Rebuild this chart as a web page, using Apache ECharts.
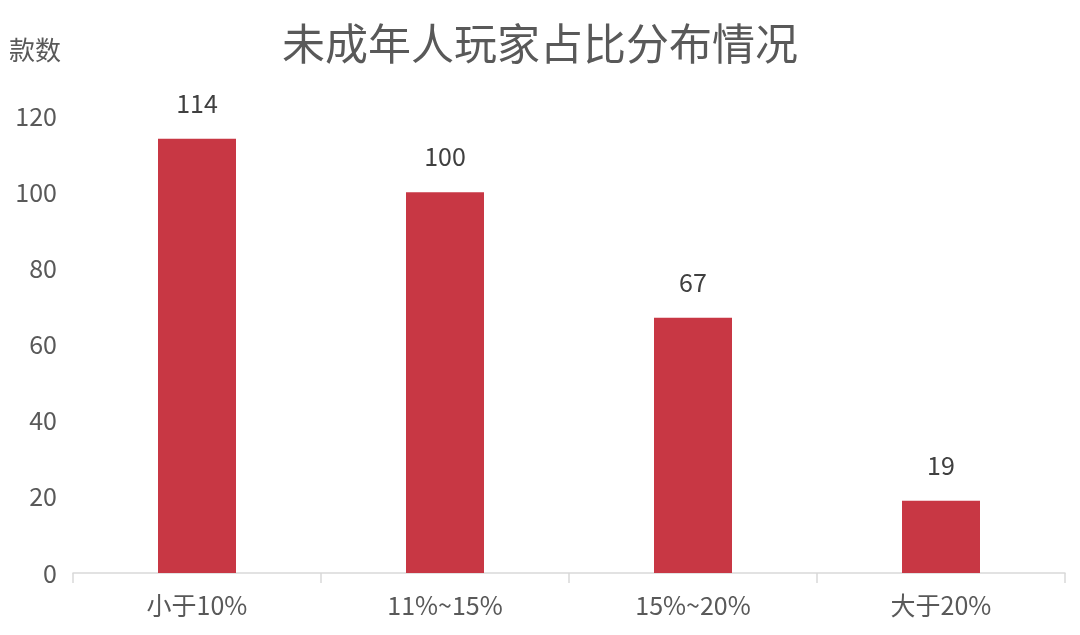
<!DOCTYPE html>
<html><head><meta charset="utf-8">
<script src="https://cdn.jsdelivr.net/npm/echarts@6/dist/echarts.min.js"></script>
<style>html,body{margin:0;padding:0;background:#fff}#c{width:1080px;height:635px}</style>
</head><body><div id="c"></div>
<script>
const categories = ['小于10%', '11%~15%', '15%~20%', '大于20%'];
const values = [114, 100, 67, 19];
const yTicks = [0, 20, 40, 60, 80, 100, 120];
const FONT = '"Noto Sans CJK SC", "Noto Sans", sans-serif';
const chart = echarts.init(document.getElementById('c'));
chart.setOption({
  animation: false,
  title: {
    text: '未成年人玩家占比分布情况', left: 'center', top: 17,
    textStyle: { fontFamily: FONT, fontSize: 43, fontWeight: 'normal', color: '#595959' }
  },
  grid: { left: 73, right: 15, top: 116, bottom: 62 },
  xAxis: {
    type: 'category', data: categories,
    axisLine: { lineStyle: { color: '#d9d9d9', width: 1.5 } },
    axisTick: { show: true, length: 10, alignWithLabel: false, lineStyle: { color: '#d9d9d9', width: 1.5 } },
    axisLabel: { fontFamily: FONT, fontSize: 25, color: '#595959', margin: 20 }
  },
  yAxis: {
    type: 'value', min: yTicks[0], max: yTicks[yTicks.length - 1], interval: 20,
    name: '款数', nameLocation: 'end', nameGap: 0,
    nameTextStyle: { fontFamily: FONT, fontSize: 26, color: '#595959', align: 'left', padding: [0, 0, 53, -64] },
    axisLine: { show: false }, axisTick: { show: false }, splitLine: { show: false },
    axisLabel: { fontFamily: FONT, fontSize: 25, color: '#595959', margin: 16 }
  },
  series: [{
    type: 'bar', data: values, barWidth: 78,
    itemStyle: { color: '#C83744' },
    label: { show: true, position: 'top', distance: 23, fontFamily: FONT, fontSize: 25, color: '#404040' }
  }]
});
</script></body></html>
